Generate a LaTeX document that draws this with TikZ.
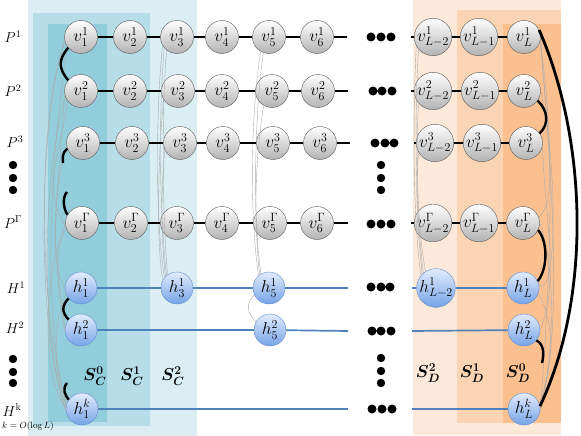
\documentclass[tikz,border=0pt]{standalone}
\usepackage{amsmath}
\usepackage{bm}
\definecolor{cout}{RGB}{218,238,243}
\definecolor{cmid}{RGB}{183,221,232}
\definecolor{cin}{RGB}{146,205,220}
\definecolor{dout}{RGB}{253,233,217}
\definecolor{dmid}{RGB}{251,212,180}
\definecolor{din}{RGB}{250,192,144}
\definecolor{hblue}{RGB}{79,129,189}
\definecolor{htop}{RGB}{226,236,252}
\definecolor{hbot}{RGB}{118,163,232}
\definecolor{hedge}{RGB}{96,140,204}
\begin{document}
\begin{tikzpicture}[x=1pt,y=-1pt,
    vx/.style={circle,minimum size=33pt,inner sep=0pt,draw=black!65,top color=white,bottom color=black!30,font=\LARGE},
    hx/.style={circle,minimum size=32pt,inner sep=0pt,draw=hedge,top color=htop,bottom color=hbot,font=\LARGE},
    pline/.style={line width=1.7pt,black},
    hline/.style={line width=1.7pt,hblue},
    link/.style={line width=2.4pt,black},
    mesh/.style={line width=0.4pt,gray!65},
    lbl/.style={font=\Large},
    sl/.style={font=\LARGE}]
  \useasboundingbox (0,0) rectangle (581,436);
  % blocks
  \fill[cout] (28,0) rectangle (197,436);
  \fill[cmid] (33,13) rectangle (150,426);
  \fill[cin] (48,24) rectangle (107,422);
  \fill[dout] (413,0) rectangle (561,435);
  \fill[dmid] (457,10) rectangle (561,423);
  \fill[din] (503,24) rectangle (561,423);
  % paths
  \draw
    (81,37) node[vx] (v11){$v^1_1$}
    (130,37) node[vx] (v21){$v^1_2$}
    (177,37) node[vx] (v31){$v^1_3$}
    (222,37) node[vx] (v41){$v^1_4$}
    (269,37) node[vx] (v51){$v^1_5$}
    (317,37) node[vx] (v61){$v^1_6$}
    (433,37) node[vx] (va1){$v^1_{L{-}2}$}
    (479,37) node[vx] (vb1){$v^1_{L{-}1}$}
    (524,37) node[vx] (vl1){$v^1_L$};
  \draw
    (81,91) node[vx] (v12){$v^2_1$}
    (130,91) node[vx] (v22){$v^2_2$}
    (178,91) node[vx] (v32){$v^2_3$}
    (222,91) node[vx] (v42){$v^2_4$}
    (272,91) node[vx] (v52){$v^2_5$}
    (318,91) node[vx] (v62){$v^2_6$}
    (433,91) node[vx] (va2){$v^2_{L{-}2}$}
    (480,91) node[vx] (vb2){$v^2_{L{-}1}$}
    (524,91) node[vx] (vl2){$v^2_L$};
  \draw
    (83,143) node[vx] (v13){$v^3_1$}
    (132,143) node[vx] (v23){$v^3_2$}
    (180,143) node[vx] (v33){$v^3_3$}
    (223,143) node[vx] (v43){$v^3_4$}
    (273,143) node[vx] (v53){$v^3_5$}
    (320,143) node[vx] (v63){$v^3_6$}
    (435,143) node[vx] (va3){$v^3_{L{-}2}$}
    (482,143) node[vx] (vb3){$v^3_{L{-}1}$}
    (526,143) node[vx] (vl3){$v^3_L$};
  \draw
    (82,223) node[vx] (v1g){$v^\Gamma_1$}
    (131,223) node[vx] (v2g){$v^\Gamma_2$}
    (177,223) node[vx] (v3g){$v^\Gamma_3$}
    (222,223) node[vx] (v4g){$v^\Gamma_4$}
    (270,223) node[vx] (v5g){$v^\Gamma_5$}
    (317,223) node[vx] (v6g){$v^\Gamma_6$}
    (433,223) node[vx] (vag){$v^\Gamma_{L{-}2}$}
    (479,223) node[vx] (vbg){$v^\Gamma_{L{-}1}$}
    (523,223) node[vx] (vlg){$v^\Gamma_L$};
  % helper rows
  \draw
    (81,288) node[hx] (h11){$h^1_1$}
    (177,288) node[hx] (h31){$h^1_3$}
    (269,288) node[hx] (h51){$h^1_5$}
    (436,288) node[hx] (ha1){$h^1_{L{-}2}$}
    (523,288) node[hx] (hl1){$h^1_L$};
  \draw
    (81,330) node[hx] (h12){$h^2_1$}
    (270,330) node[hx] (h52){$h^2_5$}
    (524,330) node[hx] (hl2){$h^2_L$};
  \draw
    (82,409) node[hx] (h1k){$h^k_1$}
    (524,409) node[hx] (hlk){$h^k_L$};
  % free ends
  \coordinate (e1) at (347,37);  \coordinate (s1) at (411,37);
  \coordinate (e2) at (348,91);  \coordinate (s2) at (411,91);
  \coordinate (e3) at (350,143); \coordinate (s3) at (414,143);
  \coordinate (eg) at (348,223); \coordinate (sg) at (411,223);
  \coordinate (f1) at (348,288); \coordinate (t1) at (412,288);
  \coordinate (f2) at (348,331); \coordinate (t2) at (412,331);
  \coordinate (fk) at (348,409); \coordinate (tk) at (412,409);
  % gray links
  \begin{scope}[mesh]
    \draw (v11.200) .. controls (40,100) and (34,330) .. (h1k.180);
    \draw (v11.215) .. controls (52,150) and (40,300) .. (h1k.170);
    \draw (v11.190) .. controls (30,150) and (46,350) .. (h1k.160);
    \draw (v12.200) .. controls (44,170) and (38,330) .. (h1k.190);
    \draw (v12.190) .. controls (58,200) and (48,260) .. (h11.180);
    \draw (v13.190) .. controls (44,220) and (62,300) .. (h12.170);
    \draw (v1g.200) .. controls (44,260) and (40,380) .. (h1k.175);
    \draw (v1g.185) .. controls (52,260) and (60,300) .. (h12.185);
    \draw (h11.200) .. controls (50,330) and (56,390) .. (h1k.165);
    \draw (v12.215) .. controls (62,150) and (40,190) .. (v1g.190);
    \draw (v31.220) .. controls (158,120) and (160,220) .. (h31.130);
    \draw (v31.232) .. controls (161,110) and (163,230) .. (h31.125);
    \draw (v31.210) .. controls (155,120) and (156,230) .. (h31.140);
    \draw (v32.210) .. controls (156,180) and (158,260) .. (h31.150);
    \draw (v33.205) .. controls (160,200) and (162,250) .. (h31.135);
    \draw (v51.240) .. controls (250,120) and (250,220) .. (h51.130);
    \draw (v51.250) .. controls (254,120) and (253,220) .. (h51.120);
    \draw (v52.240) .. controls (252,180) and (256,240) .. (h51.125);
    \draw (h51.205) .. controls (245,305) and (247,312) .. (h52.150);
    \draw (va1.220) .. controls (414,120) and (416,220) .. (ha1.130);
    \draw (va1.208) .. controls (412,130) and (414,230) .. (ha1.140);
    \draw (va2.220) .. controls (415,170) and (419,240) .. (ha1.122);
    \draw (va3.210) .. controls (414,200) and (420,250) .. (ha1.135);
    \draw (vl1.-20) .. controls (560,150) and (545,350) .. (hlk.0);
    \draw (vl1.-10) .. controls (550,160) and (565,330) .. (hlk.10);
    \draw (vl2.0) .. controls (560,180) and (555,300) .. (hl1.10);
    \draw (vl3.-10) .. controls (545,220) and (560,280) .. (hl2.0);
    \draw (vlg.0) .. controls (560,280) and (550,380) .. (hlk.-10);
    \draw (hl1.-20) .. controls (560,330) and (548,380) .. (hlk.20);
    \draw (vl1.0) .. controls (545,120) and (560,200) .. (vlg.20);
  \end{scope}
  % rows
  \begin{scope}[pline]
    \draw (v11) -- (v21) -- (v31) -- (v41) -- (v51) -- (v61) -- (e1);
    \draw (s1) -- (va1) -- (vb1) -- (vl1);
    \draw (v12) -- (v22) -- (v32) -- (v42) -- (v52) -- (v62) -- (e2);
    \draw (s2) -- (va2) -- (vb2) -- (vl2);
    \draw (v13) -- (v23) -- (v33) -- (v43) -- (v53) -- (v63) -- (e3);
    \draw (s3) -- (va3) -- (vb3) -- (vl3);
    \draw (v1g) -- (v2g) -- (v3g) -- (v4g) -- (v5g) -- (v6g) -- (eg);
    \draw (sg) -- (vag) -- (vbg) -- (vlg);
  \end{scope}
  \begin{scope}[hline]
    \draw (h11) -- (h31) -- (h51) -- (f1);
    \draw (t1) -- (ha1) -- (hl1);
    \draw (h12) -- (h52) -- (f2);
    \draw (t2) -- (hl2);
    \draw (h1k) -- (fk);
    \draw (tk) -- (hlk);
  \end{scope}
  % thick links
  \coordinate (u3) at (63,163);
  \coordinate (ug) at (67,192);
  \coordinate (uk) at (67,383);
  \coordinate (w2) at (542,363);
  \begin{scope}[link]
    \draw (v11.220) .. controls +(-10,12) and +(-10,-12) .. (v12.140);
    \draw (v13.200) .. controls +(-6,5) and +(0,-5) .. (u3);
    \draw (ug) .. controls +(-5,5) and +(-4,-5) .. (v1g.150);
    \draw (h11.220) .. controls +(-7,7) and +(-7,-7) .. (h12.140);
    \draw (uk) .. controls +(-5,6) and +(-4,-5) .. (h1k.145);
    \draw (vl2.-35) .. controls +(10,10) and +(10,-10) .. (vl3.35);
    \draw (vlg.-25) .. controls +(10,12) and +(10,-12) .. (hl1.25);
    \draw (hl2.-40) .. controls +(8,4) and +(2,-8) .. (w2);
    \draw[line width=2.8pt] (vl1.25) .. controls +(48,110) and +(52,-110) .. (hlk.10);
  \end{scope}
  % labels
  \node[lbl] (lp1) at (13,37) {$P^1$};
  \node[lbl] (lp2) at (13,91) {$P^2$};
  \node[lbl] (lp3) at (15,142) {$P^3$};
  \node[lbl] (lpg) at (13,222) {$P^\Gamma$};
  \node[lbl] (lh1) at (16,288) {$H^1$};
  \node[lbl] (lh2) at (15,328) {$H^2$};
  \node[lbl] (lhk) at (12,410) {$H^{\mathrm{k}}$};
  \node[font=\small] (lk) at (28,426) {$k=O(\log L)$};
  \node[sl] (sc0) at (95,376) {$\bm{S^0_C}$};
  \node[sl] (sc1) at (132,376) {$\bm{S^1_C}$};
  \node[sl] (sc2) at (173,376) {$\bm{S^2_C}$};
  \node[sl] (sd2) at (428,373) {$\bm{S^2_D}$};
  \node[sl] (sd1) at (472,373) {$\bm{S^1_D}$};
  \node[sl] (sd0) at (518,373) {$\bm{S^0_D}$};
  % dots
  \fill (371,37) circle (4.5) (381,37) circle (4.5) (391,37) circle (4.5);
  \fill (373,91) circle (4.5) (382,91) circle (4.5) (392,91) circle (4.5);
  \fill (375,143) circle (4.5) (385,143) circle (4.5) (394,143) circle (4.5);
  \fill (371,224) circle (4.5) (381,224) circle (4.5) (391,224) circle (4.5);
  \fill (371,287) circle (4.5) (381,287) circle (4.5) (390,287) circle (4.5);
  \fill (372,331) circle (4.5) (381,331) circle (4.5) (391,331) circle (4.5);
  \fill (372,409) circle (4.5) (382,409) circle (4.5) (392,409) circle (4.5);
  \fill (381,165) circle (4.2) (381,178) circle (4.2) (381,190) circle (4.2);
  \fill (381,358) circle (4.2) (381,371) circle (4.2) (381,383) circle (4.2);
  \fill (13,165) circle (4.2) (13,178) circle (4.2) (13,190) circle (4.2);
  \fill (13,359) circle (4.2) (13,372) circle (4.2) (13,383) circle (4.2);
\end{tikzpicture}
\end{document}
